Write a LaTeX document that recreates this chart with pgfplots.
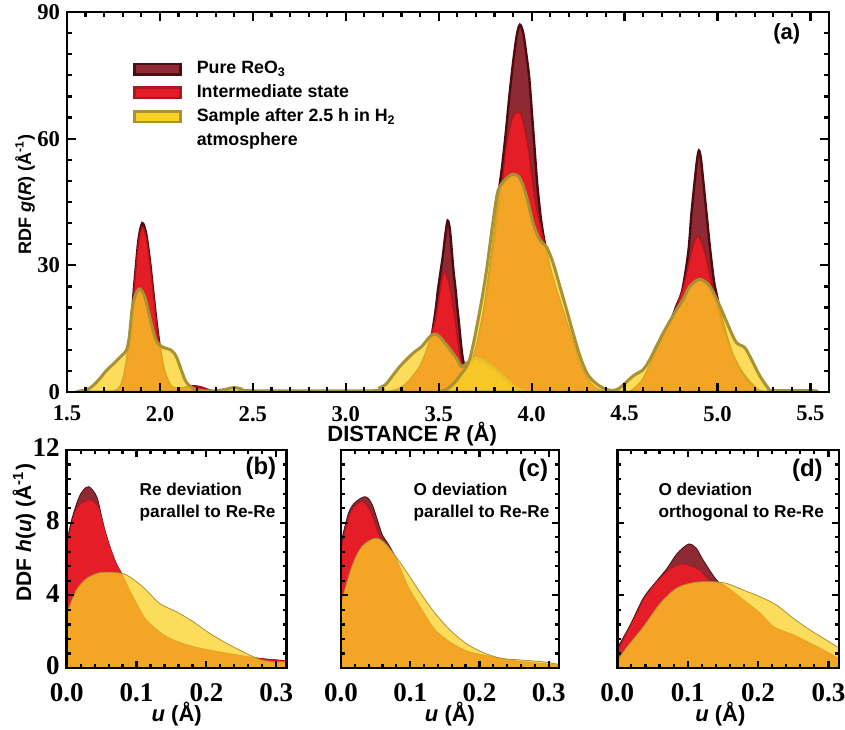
\documentclass[border=0pt]{standalone}
\usepackage{fontspec}
\setmainfont{Liberation Sans}
\newfontfamily\tnr{Liberation Serif}
\usepackage{pgfplots}
\pgfplotsset{compat=1.18}
\definecolor{maroonF}{HTML}{8E2A33}
\definecolor{maroonE}{HTML}{4E0B10}
\definecolor{redF}{HTML}{E51D26}
\definecolor{redE}{HTML}{B3141B}
\definecolor{yelF}{HTML}{FAD127}
\definecolor{yelE}{HTML}{A99232}
\tikzset{
  ptxt/.style={anchor=north west, align=left, inner sep=0pt, font=\bfseries\fontsize{8.6}{11}\selectfont},
  plab/.style={font=\bfseries\fontsize{12}{13}\selectfont},
}
\pgfplotsset{
  /pgf/number format/assume math mode=true,
  panel/.style={scale only axis, axis on top, clip=true,
    axis line style={line width=1.4pt, black},
    every tick/.style={line width=1.1pt, black},
    tick align=inside, ymin=0},
  bpanel/.style={panel, anchor=south west, height=109pt,
    xmin=0, xmax=0.315, ymax=12,
    xtick={0,0.1,0.2,0.3}, ytick={0,4,8,12},
    minor x tick num=4, minor y tick num=4,
    major tick length=3.5pt, minor tick length=2pt,
    tick label style={font=\tnr\bfseries\fontsize{13.5}{15}\selectfont},
    yticklabel style={yshift=1pt},
    xticklabel style={yshift=-4pt, /pgf/number format/.cd, fixed, fixed zerofill, precision=1},
    xlabel={\bfseries \textit{u} (Å)},
    label style={font=\bfseries\fontsize{11}{12}\selectfont}},
  mar/.style={smooth, fill=maroonF, draw=maroonE, forget plot},
  rd/.style={smooth, fill=redF, draw=redE, forget plot},
  yl/.style={smooth, fill=yelF, fill opacity=0.76, draw=yelE, forget plot},
}
\begin{document}
\begin{tikzpicture}
% ---------------- (a) ----------------
\begin{axis}[panel, at={(33.5pt,168.5pt)}, anchor=south west,
  width=381pt, height=190pt,
  xmin=1.5, xmax=5.6, ymax=90,
  xtick={1.5,2.0,...,5.5}, ytick={0,30,60,90},
  minor x tick num=4, minor y tick num=5,
  major tick length=4.5pt, minor tick length=2.5pt,
  tick label style={font=\tnr\bfseries\fontsize{11.3}{13}\selectfont},
  xticklabel style={yshift=-3.5pt, /pgf/number format/.cd, fixed, fixed zerofill, precision=1},
  xlabel={\bfseries DISTANCE \textit{R} (Å)},
  ylabel={\bfseries RDF \textit{g}(\textit{R}) (Å\textsuperscript{-1})},
  xlabel style={font=\bfseries\fontsize{11}{12}\selectfont, at={(axis description cs:0.453,-0.11)}, anchor=center},
  ylabel style={font=\bfseries\fontsize{9}{11}\selectfont, at={(axis description cs:-0.055,0.52)}, anchor=center},
  legend style={draw=none, fill=none, at={(0.0866,0.8816)}, anchor=north west,
    font=\bfseries\fontsize{8.9}{10}\selectfont, inner sep=0pt, row sep=0pt, column sep=3pt,
    nodes={inner xsep=4.5pt}},
  legend cell align=left,
]
\addplot[mar, line width=1.2pt] coordinates {
(1.60,0) (1.70,0) (1.755,0.15) (1.785,1.1) (1.805,3.4) (1.825,8.2) (1.845,16.4) (1.865,27) (1.885,36.2) (1.905,40) (1.925,37.7) (1.945,31.5) (1.965,23.4) (1.985,15.4) (2.005,9.0) (2.025,4.7) (2.055,1.6) (2.085,0.8) (2.12,0.9) (2.16,1.3) (2.20,1.3) (2.24,0.8) (2.28,0.2) (2.32,0) (3.20,0) (3.25,0.2) (3.30,1) (3.35,3) (3.40,6) (3.43,9) (3.45,11.5) (3.461,13.1) (3.473,16.3) (3.485,20) (3.496,24.2) (3.51,28.5) (3.523,32.5) (3.535,37) (3.548,40.6) (3.56,38.5) (3.572,32.5) (3.58,28.5) (3.591,24.2) (3.60,20) (3.609,16.3) (3.622,10.5) (3.631,7.6) (3.645,5.5) (3.67,6.5) (3.70,10) (3.75,21) (3.80,38) (3.82,46.5) (3.84,53) (3.86,61) (3.88,70) (3.90,78) (3.92,84.5) (3.937,87) (3.955,85) (3.97,80.5) (3.987,74.5) (4.00,67) (4.014,58.8) (4.03,49.4) (4.05,41) (4.071,35.2) (4.10,29) (4.14,23) (4.18,17.5) (4.22,12) (4.26,6.5) (4.30,3) (4.34,1) (4.38,0.2) (4.42,0) (4.52,0) (4.56,1) (4.60,3) (4.64,6.5) (4.68,10.5) (4.72,14.5) (4.75,17) (4.78,20.5) (4.807,23.5) (4.828,28.5) (4.846,34.4) (4.86,42.3) (4.878,50.2) (4.89,55) (4.90,57.2) (4.91,55.5) (4.923,50.2) (4.941,42.3) (4.959,34.4) (4.98,26.6) (4.998,22.6) (5.02,18) (5.05,13) (5.08,9) (5.12,5.5) (5.16,3) (5.20,1.2) (5.25,0) (5.5,0)
} \closedcycle;
\addplot[rd, line width=0.7pt] coordinates {
(1.60,0) (1.70,0) (1.755,0.15) (1.785,1.1) (1.805,3.3) (1.825,8) (1.845,16) (1.865,26.3) (1.885,35.3) (1.905,39) (1.925,36.8) (1.945,30.7) (1.965,22.8) (1.985,15) (2.005,8.8) (2.025,4.6) (2.055,1.6) (2.085,0.8) (2.12,0.9) (2.16,1.3) (2.20,1.3) (2.24,0.8) (2.28,0.2) (2.32,0) (3.20,0) (3.25,0.2) (3.30,1) (3.35,3) (3.40,6) (3.43,9) (3.455,13) (3.478,16.3) (3.50,22) (3.515,26) (3.528,28.5) (3.54,28) (3.555,26) (3.568,23) (3.58,19.5) (3.591,16.3) (3.60,13) (3.609,10) (3.625,6.5) (3.645,5) (3.67,6) (3.70,10) (3.75,20) (3.80,35) (3.82,42) (3.84,49.4) (3.865,58.8) (3.89,64) (3.91,66) (3.928,66.3) (3.945,65.5) (3.965,62) (3.985,57) (4.005,50) (4.025,44) (4.05,39) (4.075,34) (4.10,29) (4.14,23) (4.18,17.5) (4.22,12) (4.26,6.5) (4.30,3) (4.34,1) (4.38,0.2) (4.42,0) (4.52,0) (4.56,1) (4.60,3) (4.64,6.5) (4.68,10.5) (4.72,14.5) (4.76,18) (4.79,21.5) (4.82,25.5) (4.85,31.5) (4.875,35.5) (4.893,37) (4.91,36) (4.935,32.5) (4.96,27.5) (4.98,23) (5.00,19.5) (5.03,15) (5.07,10) (5.11,6) (5.15,3) (5.20,1) (5.25,0) (5.5,0)
} \closedcycle;
\addplot[yl, line width=1.5pt] coordinates {
(1.55,0) (1.575,0.3) (1.606,0.5) (1.64,1.5) (1.677,3.2) (1.71,5.0) (1.748,6.6) (1.793,8.6) (1.82,9.9) (1.835,13) (1.85,19.5) (1.868,23) (1.891,24.4) (1.918,22.6) (1.945,17.8) (1.972,13.1) (1.99,11.5) (2.016,10.6) (2.061,9.9) (2.088,8.4) (2.115,5.2) (2.141,2.4) (2.177,0.9) (2.21,0.35) (2.30,0.3) (2.36,0.7) (2.40,1.1) (2.44,0.7) (2.50,0.3) (3.15,0.3) (3.183,1.0) (3.219,2.0) (3.29,6.0) (3.362,9.2) (3.407,10.7) (3.452,13.1) (3.478,13.7) (3.505,13.1) (3.55,10.7) (3.595,8.0) (3.622,6.0) (3.65,6.8) (3.70,8) (3.75,7) (3.80,5.5) (3.85,3.5) (3.90,1.5) (3.95,0.3) (4.0,0)
} \closedcycle;
\addplot[yl, line width=1.5pt] coordinates {
(3.50,0) (3.541,0.6) (3.58,2) (3.613,3.8) (3.667,7.8) (3.72,19) (3.756,28.5) (3.792,40.3) (3.82,47.8) (3.865,50.6) (3.901,51.6) (3.937,50.6) (3.973,46.2) (4.008,40) (4.044,36) (4.08,34.4) (4.116,30.5) (4.152,25) (4.188,19.5) (4.223,14) (4.26,8.5) (4.296,4.6) (4.331,2.6) (4.367,1.4) (4.40,0.6) (4.44,0.4) (4.475,1.0) (4.546,3.8) (4.60,5.3) (4.636,7.7) (4.708,14) (4.78,19.5) (4.815,21.9) (4.851,25) (4.905,26.7) (4.959,25) (5.013,20.3) (5.067,14.8) (5.102,11.7) (5.147,10.5) (5.183,7.7) (5.228,3.8) (5.272,1.0) (5.30,0.35) (5.52,0.3) (5.53,0)
} \closedcycle;
\addlegendimage{legend image code/.code={\draw[fill=maroonF,draw=maroonE,line width=1.2pt] (0pt,-2.6pt) rectangle (23pt,2.6pt);}}
\addlegendentry{Pure ReO\textsubscript{3}}
\addlegendimage{legend image code/.code={\draw[fill=redF,draw=redE!80!maroonF,line width=1.2pt] (0pt,-2.6pt) rectangle (23pt,2.6pt);}}
\addlegendentry{Intermediate state}
\addlegendimage{legend image code/.code={\draw[fill=yelF,draw=yelE,line width=1.2pt] (0pt,-2.6pt) rectangle (23pt,2.6pt);}}
\addlegendentry{Sample after 2.5 h in H\textsubscript{2}}
\addlegendimage{empty legend}
\addlegendentry{atmosphere}
\node[font=\bfseries\fontsize{11}{12}\selectfont] at (axis cs:5.373,84.8) {(a)};
\end{axis}
% ---------------- (b) ----------------
\begin{axis}[bpanel, at={(33.35pt,30.5pt)}, width=110pt,
  ylabel={\bfseries DDF \textit{h}(\textit{u}) (Å\textsuperscript{-1})},
  xlabel style={at={(axis description cs:0.5,-0.21)}, anchor=center},
  ylabel style={font=\bfseries\fontsize{10.5}{12}\selectfont, at={(axis description cs:-0.194,0.62)}, anchor=center},
]
\addplot[mar, line width=0.4pt] coordinates {
(0,6.9) (0.007,8.15) (0.017,9.34) (0.024,9.8) (0.032,9.98) (0.043,9.43) (0.05,8.33) (0.057,7.23) (0.067,6.1) (0.076,5.3) (0.085,4.6) (0.095,3.9) (0.114,2.64) (0.143,1.72) (0.181,1.17) (0.229,0.81) (0.276,0.53) (0.315,0.4)
} \closedcycle;
\addplot[rd, line width=0.3pt] coordinates {
(0,6.7) (0.0095,8.33) (0.019,9.0) (0.033,9.25) (0.045,8.9) (0.052,7.96) (0.062,6.68) (0.071,5.76) (0.079,5.2) (0.095,3.9) (0.114,2.64) (0.143,1.72) (0.181,1.17) (0.229,0.81) (0.276,0.53) (0.315,0.4)
} \closedcycle;
\addplot[yl, line width=0.4pt] coordinates {
(0,3.0) (0.014,4.3) (0.029,4.94) (0.048,5.25) (0.071,5.25) (0.086,5.12) (0.109,4.47) (0.133,3.56) (0.157,3.1) (0.181,2.55) (0.205,1.9) (0.229,1.36) (0.252,0.9) (0.276,0.48) (0.295,0.35) (0.315,0.35)
} \closedcycle;
\node[plab] at (axis cs:0.278,11.0) {(b)};
\node[ptxt] at (axis cs:0.104,10.2) {Re deviation\\parallel to Re-Re};
\end{axis}
% ---------------- (c) ----------------
\begin{axis}[bpanel, at={(170.5pt,30.5pt)}, width=109pt, yticklabels={},
  xlabel style={at={(axis description cs:0.5,-0.21)}, anchor=center},
]
\addplot[mar, line width=0.4pt] coordinates {
(0,6.9) (0.0106,8.5) (0.02,9.1) (0.0347,9.43) (0.045,9.0) (0.059,7.4) (0.067,6.9) (0.078,6.15) (0.097,4.47) (0.117,3.19) (0.136,2.09) (0.16,1.36) (0.184,0.9) (0.218,0.62) (0.25,0.4) (0.315,0.15)
} \closedcycle;
\addplot[rd, line width=0.3pt] coordinates {
(0,6.5) (0.01,8.2) (0.02,8.9) (0.032,9.15) (0.043,8.6) (0.054,7.4) (0.065,6.75) (0.078,6.1) (0.097,4.47) (0.117,3.19) (0.136,2.09) (0.16,1.36) (0.184,0.9) (0.218,0.62) (0.25,0.4) (0.315,0.15)
} \closedcycle;
\addplot[yl, line width=0.4pt] coordinates {
(0,3.56) (0.0155,5.58) (0.03,6.68) (0.049,7.14) (0.064,6.86) (0.088,5.67) (0.112,4.29) (0.136,3.01) (0.16,2.0) (0.184,1.27) (0.208,0.81) (0.232,0.53) (0.261,0.44) (0.29,0.35) (0.315,0.2)
} \closedcycle;
\node[plab] at (axis cs:0.278,10.9) {(c)};
\node[ptxt] at (axis cs:0.1045,10.2) {O deviation\\parallel to Re-Re};
\end{axis}
% ---------------- (d) ----------------
\begin{axis}[bpanel, at={(308.65pt,30.5pt)}, width=110.85pt, yticklabels={},
  xlabel style={at={(axis description cs:0.465,-0.21)}, anchor=center},
]
\addplot[mar, line width=0.4pt] coordinates {
(0,1.1) (0.018,2.35) (0.037,3.85) (0.055,4.75) (0.07,5.45) (0.085,6.3) (0.101,6.82) (0.112,6.6) (0.122,5.94) (0.141,4.84) (0.155,4.47) (0.179,3.74) (0.203,3.01) (0.222,2.27) (0.25,1.82) (0.274,1.36) (0.297,0.9) (0.315,0.5)
} \closedcycle;
\addplot[rd, line width=0.3pt] coordinates {
(0,0.95) (0.018,2.27) (0.037,3.74) (0.055,4.7) (0.075,5.45) (0.091,5.72) (0.105,5.6) (0.117,5.39) (0.131,4.84) (0.155,4.47) (0.179,3.74) (0.203,3.01) (0.222,2.27) (0.25,1.82) (0.274,1.36) (0.297,0.9) (0.315,0.5)
} \closedcycle;
\addplot[yl, line width=0.4pt] coordinates {
(0,0.44) (0.018,1.36) (0.037,2.27) (0.061,3.56) (0.084,4.39) (0.108,4.7) (0.132,4.75) (0.155,4.66) (0.179,4.29) (0.203,3.92) (0.226,3.47) (0.25,2.74) (0.274,2.09) (0.297,1.54) (0.315,1.1)
} \closedcycle;
\node[plab] at (axis cs:0.27,10.9) {(d)};
\node[ptxt] at (axis cs:0.058,10.2) {O deviation\\orthogonal to Re-Re};
\end{axis}
\pgfresetboundingbox
\path[use as bounding box] (0,0) rectangle (422.5pt,364.5pt);
\end{tikzpicture}
\end{document}
